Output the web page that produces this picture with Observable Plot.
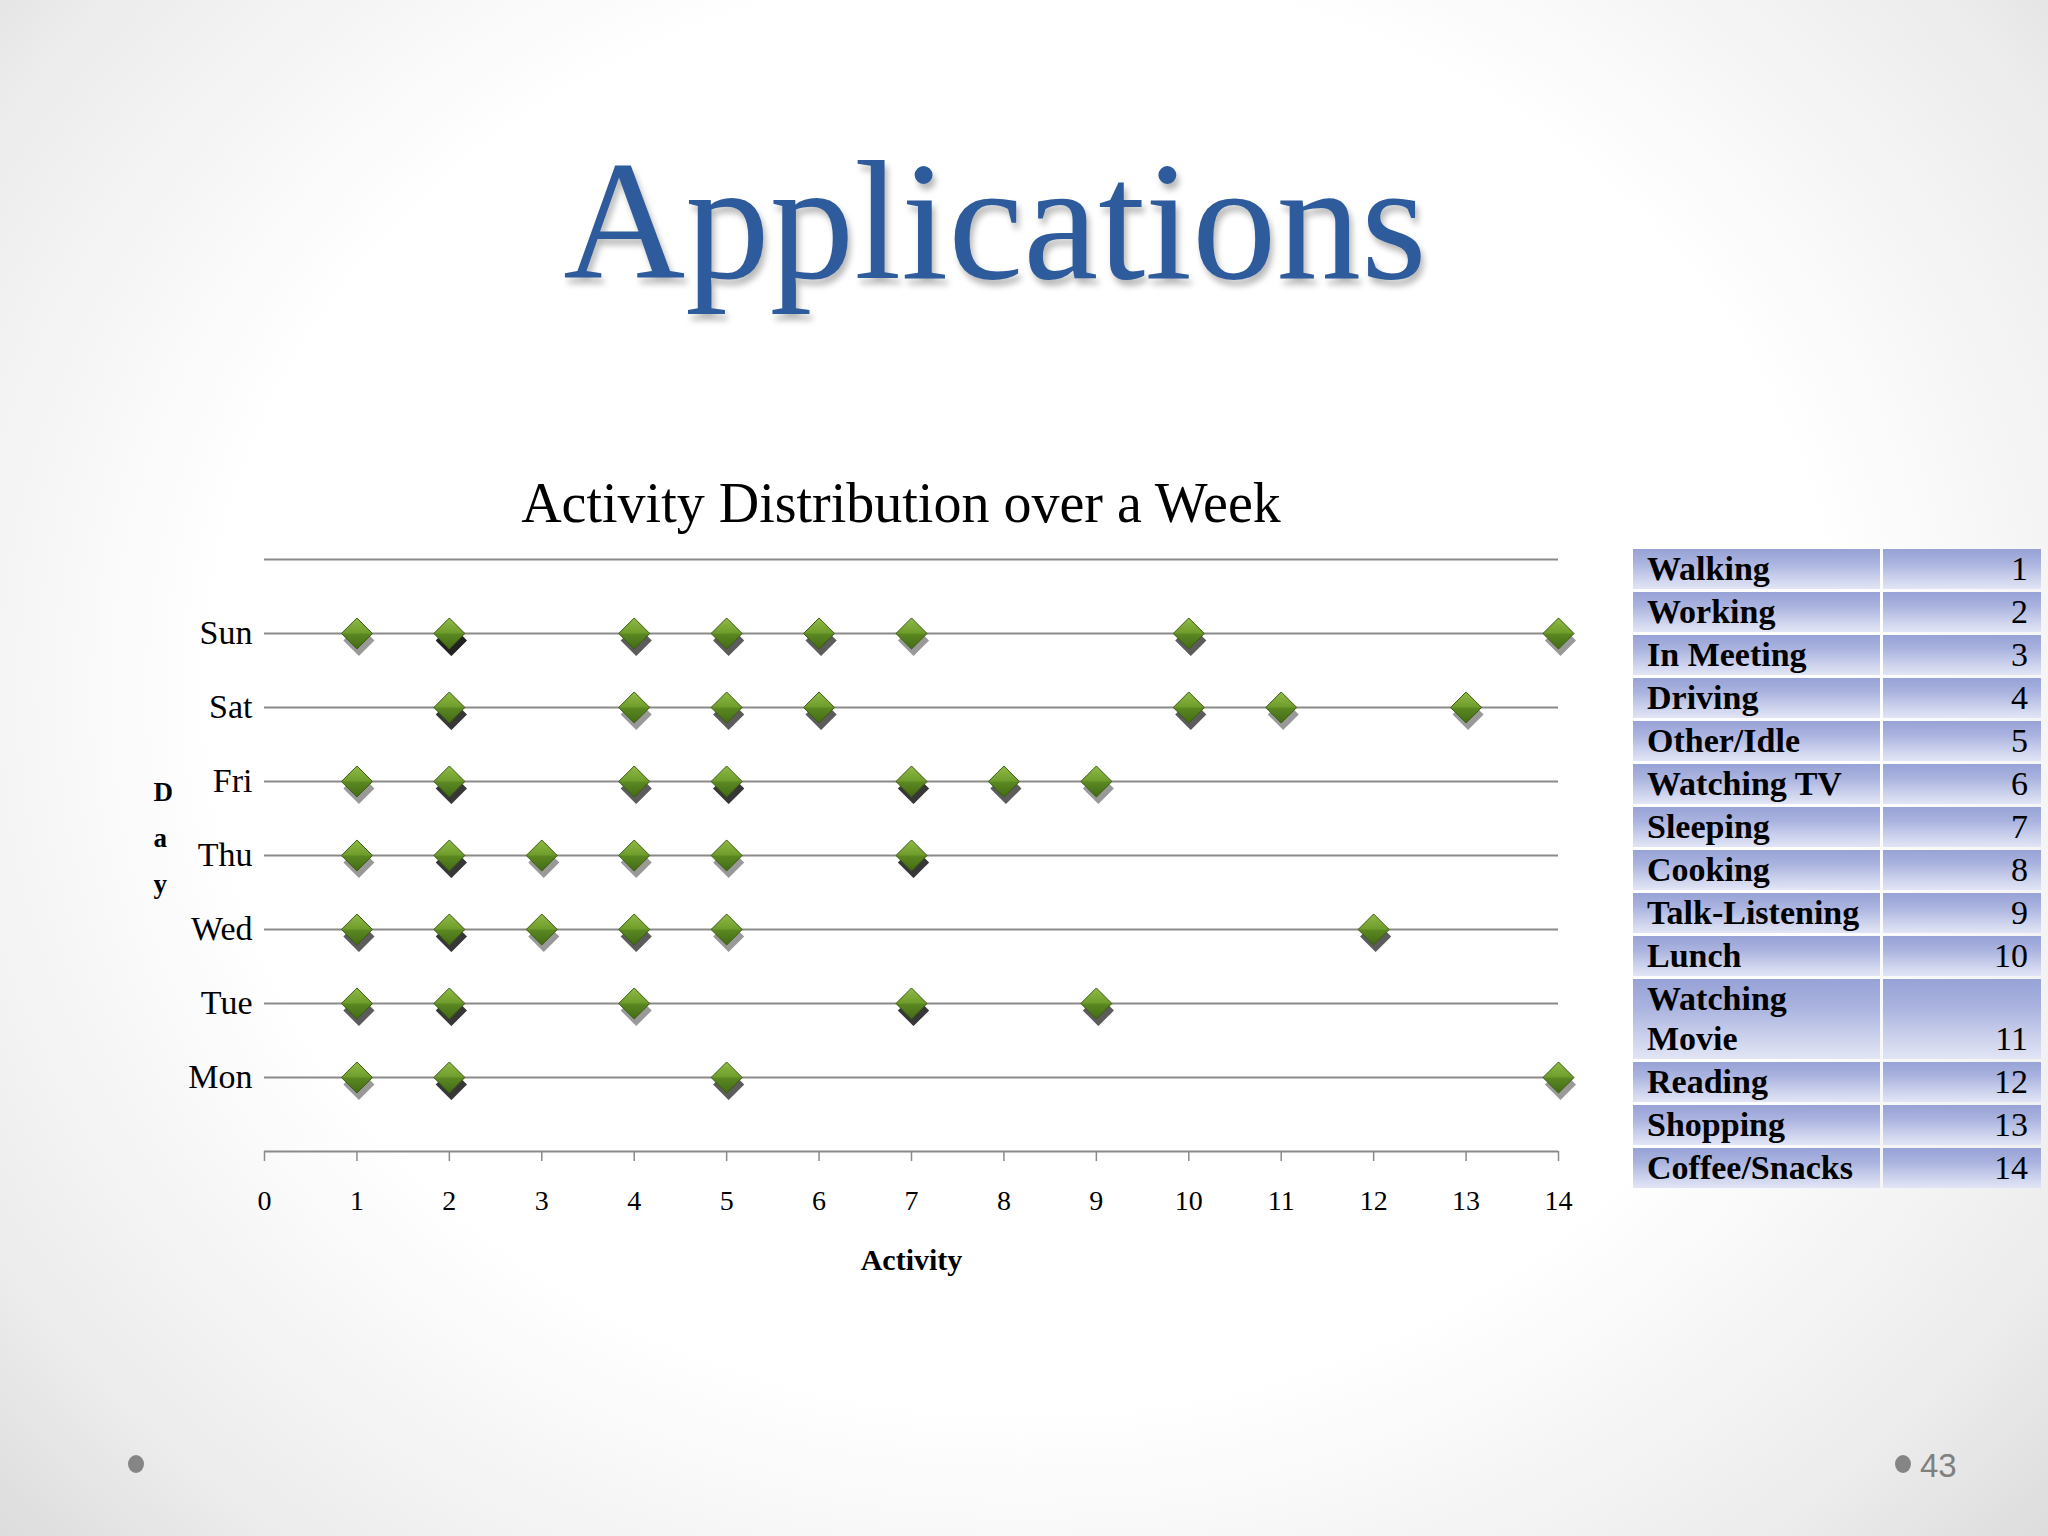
<!DOCTYPE html>
<html>
<head>
<meta charset="utf-8">
<script src="https://cdn.jsdelivr.net/npm/d3@7"></script>
<script src="https://cdn.jsdelivr.net/npm/@observablehq/plot@0.6"></script>
<style>
  html, body { margin: 0; padding: 0; }
  body {
    width: 2048px; height: 1536px; position: relative; overflow: hidden;
    background: radial-gradient(ellipse 72% 85% at 50% 45%, #ffffff 55%, #ececec 82%, #d6d6d6 100%);
    font-family: "Liberation Serif", serif;
  }
  #slideTitle {
    position: absolute; left: 0; width: 1990px; top: 137px; text-align: center;
    font-size: 169px; line-height: 1; color: #2E5B9C;
    text-shadow: 3px 6px 6px rgba(0,0,0,0.28);
  }
  #chartTitle {
    position: absolute; left: 0; width: 1802px; top: 475px; text-align: center;
    font-size: 56px; line-height: 1; color: #000;
  }
  #chart { position: absolute; left: 0; top: 480px; }
  #legend {
    position: absolute; left: 1630px; top: 546px;
    border-collapse: separate; border-spacing: 3px; table-layout: fixed;
  }
  #legend td {
    height: 40px; line-height: 40px; padding: 0; font-size: 34px; vertical-align: bottom;
    background: linear-gradient(to bottom, #97a2d6 0%, #aab3df 35%, #d2d7ef 80%, #e2e5f5 100%);
  }
  #legend td.name { width: 233px; padding-left: 14px; font-weight: bold; }
  #legend td.code { width: 145px; padding-right: 13px; text-align: right; }
  .dot { position: absolute; width: 16px; height: 18px; border-radius: 50%; background: #858585; }
  #pageNum { position: absolute; left: 1920px; top: 1447px; font-family: "Liberation Sans", sans-serif; font-size: 33px; color: #808080; }
</style>
</head>
<body>
<div id="slideTitle">Applications</div>
<div id="chartTitle">Activity Distribution over a Week</div>
<div id="chart"></div>
<table id="legend"></table>
<div class="dot" style="left:128px; top:1455px;"></div>
<div class="dot" style="left:1895px; top:1455px;"></div>
<div id="pageNum">43</div>
<script>
// ---- data ----
const days = ["Mon", "Tue", "Wed", "Thu", "Fri", "Sat", "Sun"];
const dayLevels = [1, 2, 3, 4, 5, 6, 7];
const gridLevels = [0, 1, 2, 3, 4, 5, 6, 7, 8];
const activityTicks = [0, 1, 2, 3, 4, 5, 6, 7, 8, 9, 10, 11, 12, 13, 14];
// activity codes observed each day (repeats = overlapping observations)
const monActivities = [1, 2, 2, 2, 5, 5, 14];
const tueActivities = [1, 1, 2, 2, 2, 4, 7, 7, 7, 9, 9];
const wedActivities = [1, 1, 2, 2, 2, 3, 4, 4, 5, 12, 12];
const thuActivities = [1, 2, 2, 2, 3, 4, 5, 7, 7, 7];
const friActivities = [1, 2, 2, 2, 4, 4, 5, 5, 5, 7, 7, 7, 8, 8, 9];
const satActivities = [2, 2, 2, 4, 5, 5, 6, 6, 10, 10, 11, 13];
const sunActivities = [1, 2, 2, 2, 2, 4, 4, 5, 5, 6, 6, 7, 10, 10, 14];
const activityNames = ["Walking", "Working", "In Meeting", "Driving", "Other/Idle", "Watching TV", "Sleeping",
  "Cooking", "Talk-Listening", "Lunch", "Watching Movie", "Reading", "Shopping", "Coffee/Snacks"];
const activityCodes = [1, 2, 3, 4, 5, 6, 7, 8, 9, 10, 11, 12, 13, 14];

// ---- build records ----
const perDay = [monActivities, tueActivities, wedActivities, thuActivities, friActivities, satActivities, sunActivities];
const observations = [];
perDay.forEach((acts, i) => acts.forEach(a => observations.push({day: dayLevels[i], activity: a})));
const seen = new Set();
const uniquePoints = observations.filter(d => {
  const k = d.day + ":" + d.activity;
  if (seen.has(k)) return false;
  seen.add(k); return true;
});

const chart = Plot.plot({
  width: 1620, height: 820,
  marginTop: 79, marginBottom: 149, marginLeft: 264, marginRight: 62,
  x: {domain: [0, 14]},
  y: {domain: [0, 8]},
  style: {fontFamily: "Liberation Serif", background: "transparent", color: "#000", overflow: "visible"},
  marks: [
    Plot.ruleY(gridLevels, {x1: 0, x2: 14, stroke: "#8a8a8a", strokeWidth: 2}),
    Plot.axisX({ticks: activityTicks, tickSize: 10, tickPadding: 29, fontSize: 28, label: null, stroke: "#8a8a8a", strokeWidth: 1.5}),
    Plot.axisY({ticks: dayLevels, tickSize: 0, tickPadding: 12, fontSize: 34, label: null, tickFormat: d => days[d - 1]}),
    Plot.text(["D\na\ny"], {text: d => d, frameAnchor: "left", dx: -111, dy: -23, fontWeight: "bold", fontSize: 27, lineHeight: 1.7}),
    Plot.text(["Activity"], {text: d => d, frameAnchor: "bottom", dy: 118, fontWeight: "bold", fontSize: 30}),
    Plot.dot(observations, {x: "activity", y: "day", symbol: "diamond2", r: 14, fill: "#000", fillOpacity: 0.4, dx: 2, dy: 7, ariaLabel: "shadow"}),
    Plot.dot(uniquePoints, {x: "activity", y: "day", symbol: "diamond2", r: 14, fill: "url(#gem)", stroke: "#3b5c14", strokeWidth: 1})
  ]
});

const svg = d3.select(chart);
const defs = svg.insert("defs", ":first-child");
const g = defs.append("linearGradient").attr("id", "gem").attr("x1", 0).attr("y1", 0).attr("x2", 0).attr("y2", 1);
g.append("stop").attr("offset", "0%").attr("stop-color", "#8fbb45");
g.append("stop").attr("offset", "48%").attr("stop-color", "#6f9d2c");
g.append("stop").attr("offset", "52%").attr("stop-color", "#5a8821");
g.append("stop").attr("offset", "100%").attr("stop-color", "#446b15");
defs.append("filter").attr("id", "blur").attr("x", "-50%").attr("y", "-50%").attr("width", "200%").attr("height", "200%")
  .append("feGaussianBlur").attr("stdDeviation", 3);
svg.selectAll("g[aria-label=shadow]").attr("filter", "url(#blur)");
document.getElementById("chart").appendChild(chart);

// ---- legend table ----
const tbl = d3.select("#legend");
activityNames.forEach((name, i) => {
  const tr = tbl.append("tr");
  tr.append("td").attr("class", "name").text(name);
  tr.append("td").attr("class", "code").text(activityCodes[i]);
});
</script>
</body>
</html>
